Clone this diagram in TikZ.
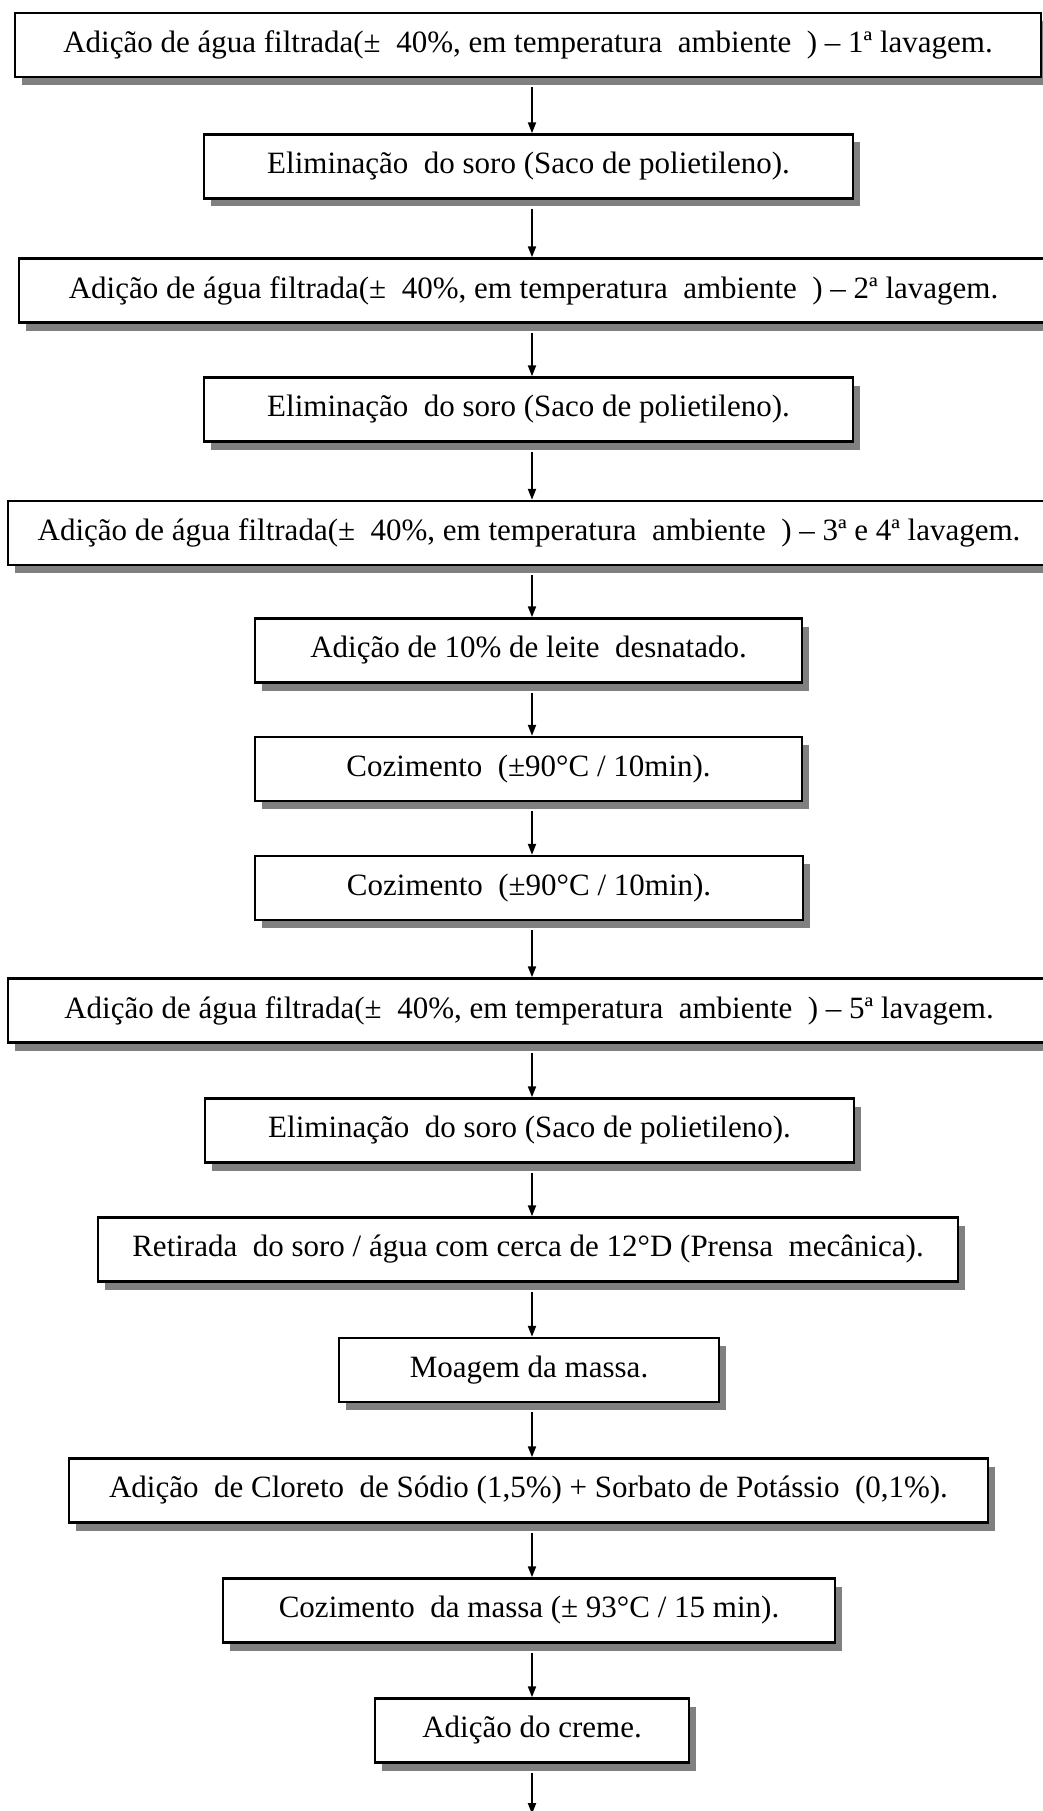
\documentclass[tikz,border=0pt]{standalone}
\usepackage{fontspec}
\setmainfont{Liberation Serif}
\usetikzlibrary{shadows,arrows.meta}
\tikzset{
  stepbox/.style={draw, line width=2.4pt, fill=white, inner sep=0pt,
    minimum height=64pt, align=center,
    font=\fontsize{31}{36}\selectfont,
    drop shadow={shadow xshift=7pt, shadow yshift=-8pt, fill=black!50, opacity=1}},
  arr/.style={line width=2pt, -{Triangle[length=11pt,width=8pt]}, shorten <=9pt}
}
\begin{document}
\begin{tikzpicture}[x=1pt,y=-1pt]
\useasboundingbox (0,0) rectangle (1043,1811);
\fill[white] (0,0) rectangle (1043,1811);
\coordinate (ax) at (532,0);
\node[stepbox, minimum width=1026pt] (b1) at (528,45) {Adição de água filtrada(±~ 40\%, em temperatura~ ambiente~ ) – 1ª lavagem.};
\node[stepbox, minimum width=649pt] (b2) at (528.5,166.5) {Eliminação~ do soro (Saco de polietileno).};
\node[stepbox, minimum width=1029pt] (b3) at (533.5,290.5) {Adição de água filtrada(±~ 40\%, em temperatura~ ambiente~ ) – 2ª lavagem.};
\node[stepbox, minimum width=649pt] (b4) at (528.5,409.5) {Eliminação~ do soro (Saco de polietileno).};
\node[stepbox, minimum width=1042pt] (b5) at (529,533) {Adição de água filtrada(±~ 40\%, em temperatura~ ambiente~ ) – 3ª e 4ª lavagem.};
\node[stepbox, minimum width=547pt] (b6) at (528.5,650.5) {Adição de 10\% de leite~ desnatado.};
\node[stepbox, minimum width=547pt] (b7) at (528.5,769) {Cozimento~ (±90°C / 10min).};
\node[stepbox, minimum width=548pt] (b8) at (529,888) {Cozimento~ (±90°C / 10min).};
\node[stepbox, minimum width=1042pt] (b9) at (529,1010.5) {Adição de água filtrada(±~ 40\%, em temperatura~ ambiente~ ) – 5ª lavagem.};
\node[stepbox, minimum width=649pt] (b10) at (529.5,1130.5) {Eliminação~ do soro (Saco de polietileno).};
\node[stepbox, minimum width=860pt] (b11) at (528,1249.5) {Retirada~ do soro / água com cerca de 12°D (Prensa~ mecânica).};
\node[stepbox, minimum width=380pt] (b12) at (529,1370) {Moagem da massa.};
\node[stepbox, minimum width=919pt] (b13) at (528.5,1490.5) {Adição~ de Cloreto~ de Sódio (1,5\%) + Sorbato de Potássio~ (0,1\%).};
\node[stepbox, minimum width=612pt] (b14) at (529,1610.5) {Cozimento~ da massa (± 93°C / 15 min).};
\node[stepbox, minimum width=314pt] (b15) at (532,1730.5) {Adição do creme.};
\coordinate (end) at (532,1814);
\foreach \a/\b in {b1/b2,b2/b3,b3/b4,b4/b5,b5/b6,b6/b7,b7/b8,b8/b9,b9/b10,b10/b11,b11/b12,b12/b13,b13/b14,b14/b15}
  \draw[arr] (\a.south -| ax) -- (\b.north -| ax);
\draw[arr] (b15.south -| ax) -- (end);
\end{tikzpicture}
\end{document}
